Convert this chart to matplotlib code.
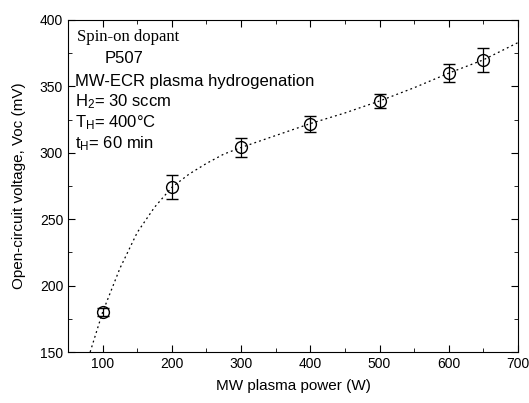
import numpy as np
import matplotlib.pyplot as plt
from matplotlib.ticker import MultipleLocator

plt.rcParams['font.family'] = ['Liberation Sans', 'DejaVu Sans']
plt.rcParams['mathtext.fontset'] = 'custom'
plt.rcParams['mathtext.rm'] = 'Liberation Sans'
plt.rcParams['mathtext.it'] = 'Liberation Sans:italic'

# measured points
power = [100, 200, 300, 400, 500, 600, 650]
voc = [180, 274, 304, 322, 339, 360, 370]
voc_err = [3, 9, 7, 6, 5, 7, 9]

# dotted guide curve
fit_x = [82, 100, 125, 150, 175, 200, 225, 250, 275, 300, 350, 400, 450, 500, 550, 600, 650, 700]
fit_y = [150, 180, 213, 240, 259, 274, 284, 292, 299, 304, 313, 322, 330, 339, 349, 360, 370, 383]

fig = plt.figure(figsize=(5.29, 4.03), dpi=100)
ax = fig.add_axes([68/529, 51/403, 450/529, 332/403])

ax.plot(fit_x, fit_y, ls=(0, (1.5, 2.5)), color='black', lw=0.9)
ax.errorbar(power, voc, yerr=voc_err, fmt='o', mfc='none', mec='black', ms=8.5,
            mew=1.0, ecolor='black', elinewidth=0.9, capsize=4, capthick=0.9)

ax.set_xlim(50, 700)
ax.set_ylim(150, 400)
ax.xaxis.set_major_locator(MultipleLocator(100))
ax.xaxis.set_minor_locator(MultipleLocator(50))
ax.yaxis.set_major_locator(MultipleLocator(50))
ax.yaxis.set_minor_locator(MultipleLocator(25))
ax.tick_params(which='both', direction='in', top=True, right=True, labelsize=10)
ax.tick_params(which='major', length=5)
ax.tick_params(which='minor', length=3)
ax.set_xticks([100, 200, 300, 400, 500, 600, 700])

ax.set_xlabel('MW plasma power (W)', fontsize=11, labelpad=6)
ax.set_ylabel('Open-circuit voltage, Voc (mV)', fontsize=11, labelpad=10)

ax.text(0.02, 0.95, 'Spin-on dopant', transform=ax.transAxes, fontsize=12,
        family='Liberation Serif', va='center', ha='left')
ax.text(0.082, 0.885, 'P507', transform=ax.transAxes, fontsize=12, va='center')
lines = ['MW-ECR plasma hydrogenation',
         'H$_2$= 30 sccm',
         'T$_\\mathregular{H}$= 400°C',
         't$_\\mathregular{H}$= 60 min']
ys = [0.815, 0.755, 0.69, 0.627]
for s, y in zip(lines, ys):
    ax.text(0.015, y, s, transform=ax.transAxes, fontsize=12, va='center')

fig.savefig('out.png', dpi=100)
